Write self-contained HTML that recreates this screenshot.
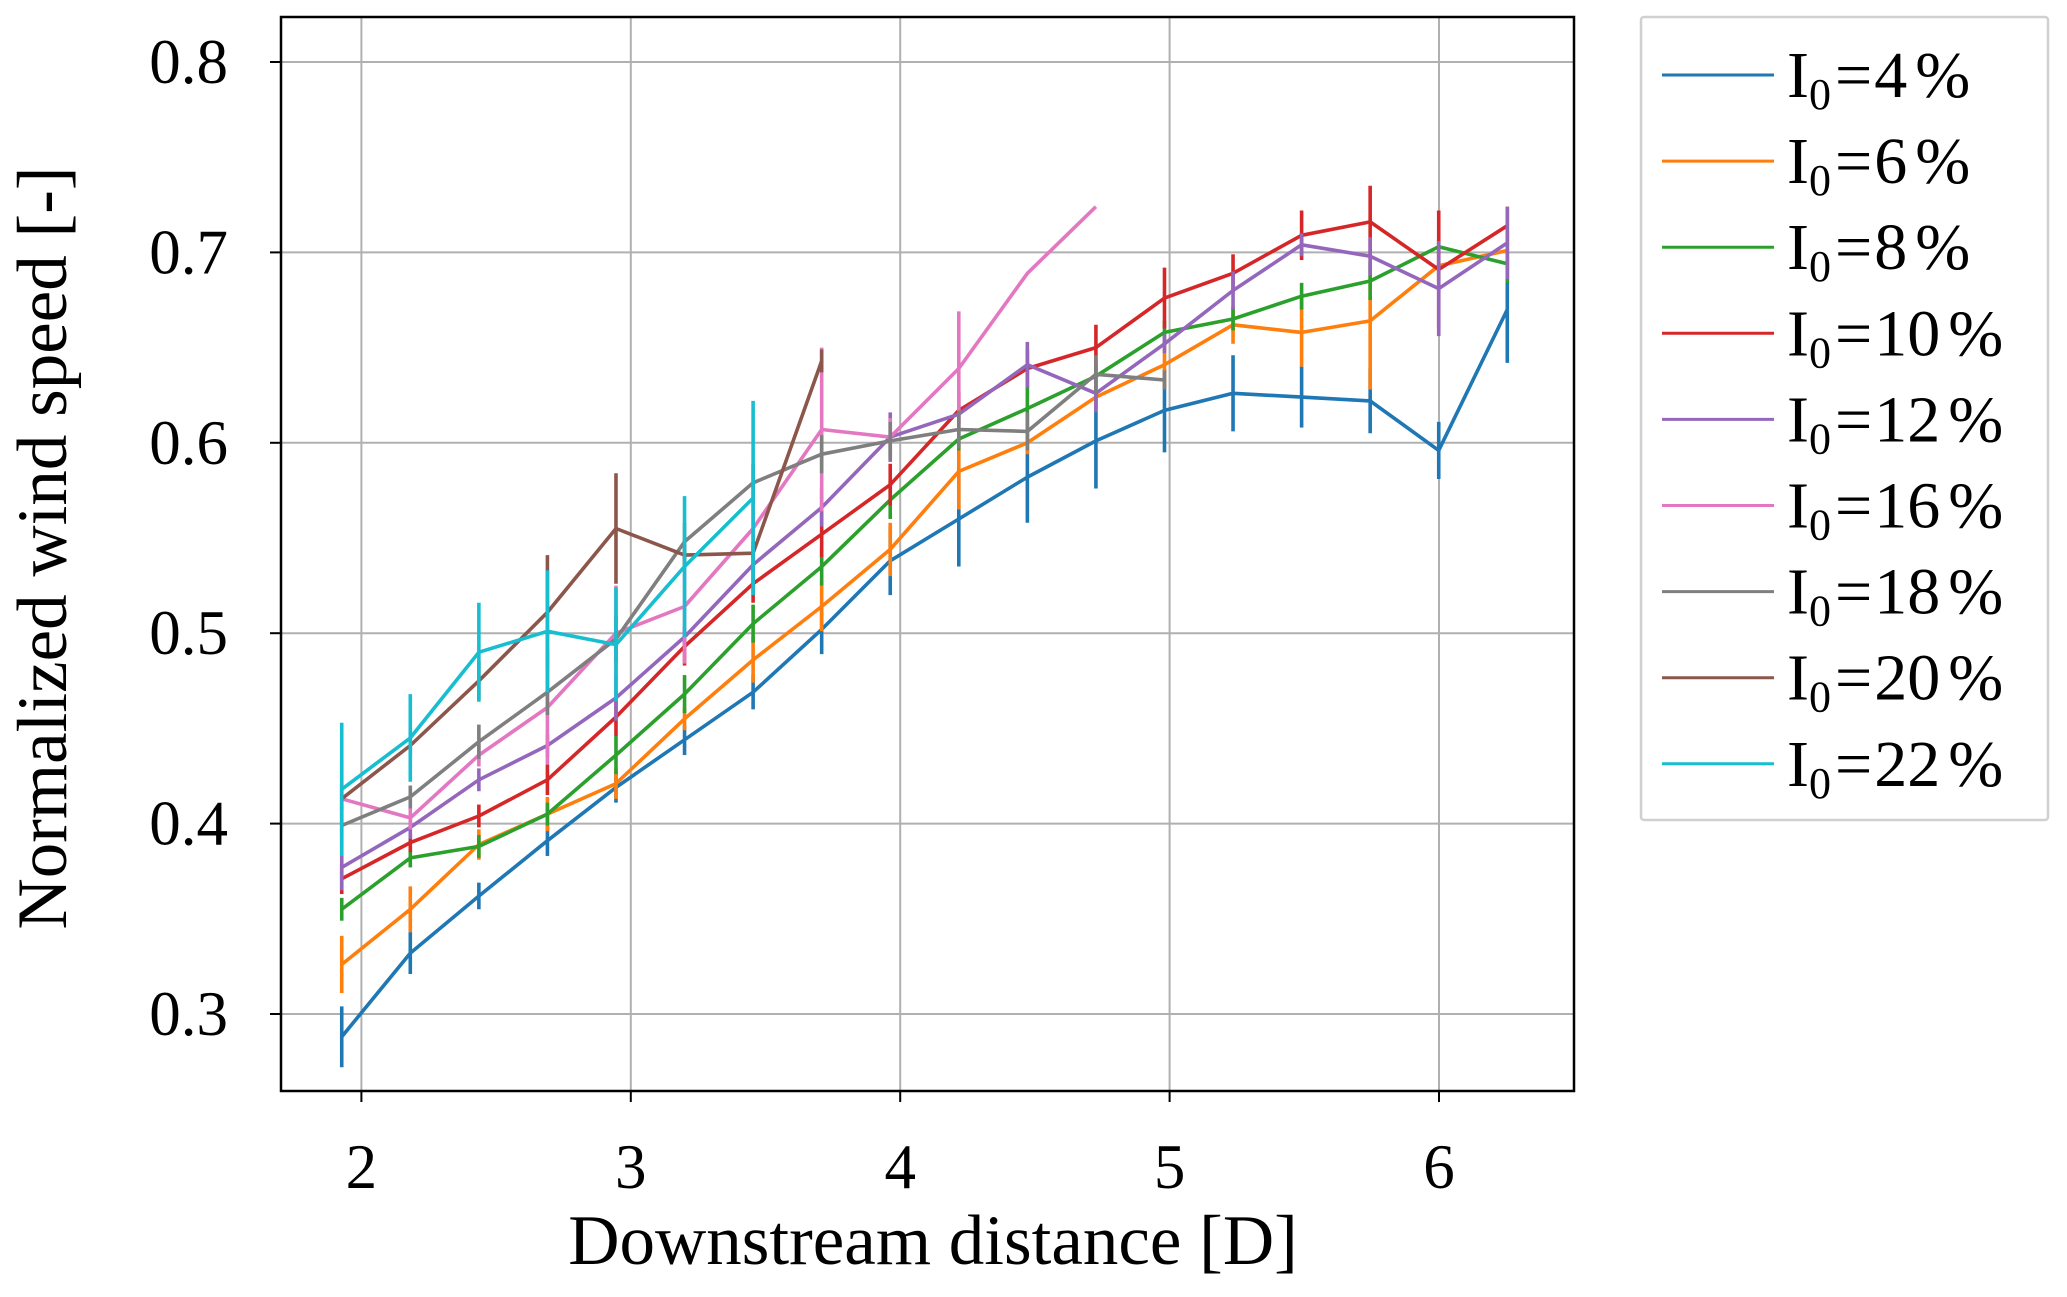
<!DOCTYPE html>
<html><head><meta charset="utf-8"><style>
html,body{margin:0;padding:0;background:#fff;}
svg{display:block;font-family:"Liberation Serif","DejaVu Serif",serif;}
</style></head><body>
<svg id="chart" width="2067" height="1297" viewBox="0 0 2067 1297" xmlns="http://www.w3.org/2000/svg">
<g id="grid"></g>
<g id="series"></g>
<rect x="281" y="17" width="1293" height="1074" fill="none" stroke="#000" stroke-width="2.5"/>
<g id="ticks"></g>
<text x="933" y="1264" font-size="71" text-anchor="middle">Downstream distance [D]</text>
<text transform="translate(66,548) rotate(-90)" font-size="71" text-anchor="middle">Normalized wind speed [-]</text>
<g id="legend"></g>
</svg>
<script>
const labels = ["4","6","8","10","12","16","18","20","22"];
const colors = ["#1f77b4","#ff7f0e","#2ca02c","#d62728","#9467bd","#e377c2","#7f7f7f","#8c564b","#17becf"];
const xStart = 1.927, xStep = 0.2545;
const s4  = [0.288,0.332,0.362,0.391,0.419,0.444,0.469,0.502,0.538,0.560,0.582,0.601,0.617,0.626,0.624,0.622,0.596,0.670];
const s6  = [0.326,0.355,0.389,0.405,0.421,0.455,0.486,0.514,0.544,0.585,0.600,0.624,0.641,0.662,0.658,0.664,0.693,0.701];
const s8  = [0.355,0.382,0.388,0.405,0.436,0.468,0.505,0.535,0.570,0.602,0.618,0.635,0.658,0.665,0.677,0.685,0.703,0.694];
const s10 = [0.371,0.390,0.404,0.423,0.456,0.493,0.526,0.552,0.578,0.617,0.639,0.650,0.676,0.689,0.709,0.716,0.691,0.714];
const s12 = [0.377,0.398,0.423,0.441,0.466,0.498,0.536,0.566,0.603,0.615,0.641,0.626,0.652,0.680,0.704,0.698,0.681,0.705];
const s16 = [0.413,0.403,0.436,0.461,0.500,0.514,0.555,0.607,0.603,0.639,0.689,0.724];
const s18 = [0.399,0.414,0.443,0.469,0.497,0.548,0.579,0.594,0.601,0.607,0.606,0.636,0.633];
const s20 = [0.413,0.441,0.475,0.511,0.555,0.541,0.542,0.643];
const s22 = [0.418,0.445,0.490,0.501,0.494,0.535,0.571];
const e4  = [0.016,0.011,0.007,0.008,0.008,0.008,0.009,0.013,0.018,0.025,0.024,0.025,0.022,0.020,0.016,0.017,0.015,0.028];
const e6  = [0.015,0.012,0.008,0.009,0.008,0.006,0.012,0.013,0.014,0.020,0.006,0.006,0.012,0.010,0.018,0.036,0.008,0.010];
const e8  = [0.006,0.005,0.006,0.006,0.010,0.010,0.010,0.010,0.010,0.006,0.012,0.006,0.006,0.006,0.007,0.010,0.004,0.010];
const e10 = [0.008,0.005,0.006,0.008,0.010,0.010,0.010,0.012,0.011,0.010,0.010,0.012,0.016,0.010,0.013,0.019,0.031,0.010];
const e12 = [0.012,0.006,0.006,0.006,0.012,0.006,0.010,0.010,0.013,0.005,0.012,0.010,0.005,0.010,0.006,0.010,0.025,0.019];
const e16 = [0.020,0.006,0.006,0.030,0.025,0.030,0.015,0.043,0.010,0.030,0.0,0.0];
const e18 = [0.010,0.006,0.009,0.012,0.012,0.010,0.010,0.010,0.010,0.010,0.010,0.010,0.005];
const e20 = [0.006,0.006,0.010,0.030,0.029,0.006,0.006,0.006];
const e22 = [0.035,0.023,0.026,0.032,0.030,0.037,0.051];
const seriesVals = [s4,s6,s8,s10,s12,s16,s18,s20,s22];
const seriesErr = [e4,e6,e8,e10,e12,e16,e18,e20,e22];
const xTicks = [2,3,4,5,6];
const yTicks = [0.3,0.4,0.5,0.6,0.7,0.8];
const yTickLabels = ["0.3","0.4","0.5","0.6","0.7","0.8"];

const NS = "http://www.w3.org/2000/svg";
function X(v){ return 361.4 + (v-2)*269.4; }
function Y(v){ return 62 + (0.8-v)*1904; }
function mk(tag, attrs, parent){ const e=document.createElementNS(NS,tag); for(const k in attrs) e.setAttribute(k,attrs[k]); parent.appendChild(e); return e; }

const grid=document.getElementById('grid'), ticks=document.getElementById('ticks');
xTicks.forEach((t,i)=>{
  const l=mk('line',{x1:X(t),x2:X(t),y1:17,y2:1091,stroke:'#b0b0b0','stroke-width':2},grid);
  
  
  const tk=mk('line',{x1:X(t),x2:X(t),y1:1091,y2:1102,stroke:'#000','stroke-width':2},ticks);
  
  
  const tx=mk('text',{x:X(t),y:1188,'font-size':63,'text-anchor':'middle'},ticks);
  tx.textContent=String(t);
  
  
});
yTicks.forEach((t,i)=>{
  const l=mk('line',{x1:281,x2:1574,y1:Y(t),y2:Y(t),stroke:'#b0b0b0','stroke-width':2},grid);
  
  
  const tk=mk('line',{x1:270,x2:281,y1:Y(t),y2:Y(t),stroke:'#000','stroke-width':2},ticks);
  
  
  const tx=mk('text',{x:228,y:Y(t)+21,'font-size':63,'text-anchor':'end'},ticks);
  tx.textContent=yTickLabels[i];
  
  
});

const sg=document.getElementById('series');
seriesVals.forEach((vals,si)=>{
  const g=mk('g',{},sg);
  
  
  const pts=vals.map((v,i)=>X(xStart+xStep*i).toFixed(1)+','+Y(v).toFixed(1)).join(' ');
  const pl=mk('polyline',{points:pts,fill:'none',stroke:colors[si],'stroke-width':3.6,'stroke-linejoin':'round'},g);
  
  
  vals.forEach((v,i)=>{
    const e=seriesErr[si][i]; const x=X(xStart+xStep*i);
    if(!e) return;
    const eb=mk('line',{x1:x,x2:x,y1:Y(v-e),y2:Y(v+e),stroke:colors[si],'stroke-width':3.6},g);
    
    
  });
});

const lg=document.getElementById('legend');
const box=mk('rect',{x:1641,y:17,width:407,height:803,fill:'#fff',stroke:'#d0d0d0','stroke-width':2.5,rx:3},lg);


labels.forEach((lab,i)=>{
  const y=75+i*86.1;
  const g=mk('g',{},lg);
  
  
  mk('line',{x1:1662,x2:1774,y1:y,y2:y,stroke:colors[i],'stroke-width':3},g);
  const t=mk('text',{x:1787,y:y+22,'font-size':66},g);
  t.innerHTML='I<tspan font-size="44" dy="12">0</tspan><tspan dy="-12" dx="4">=</tspan><tspan dx="2">' + lab + '</tspan><tspan dx="8">%</tspan>';
});
</script>
</body></html>
